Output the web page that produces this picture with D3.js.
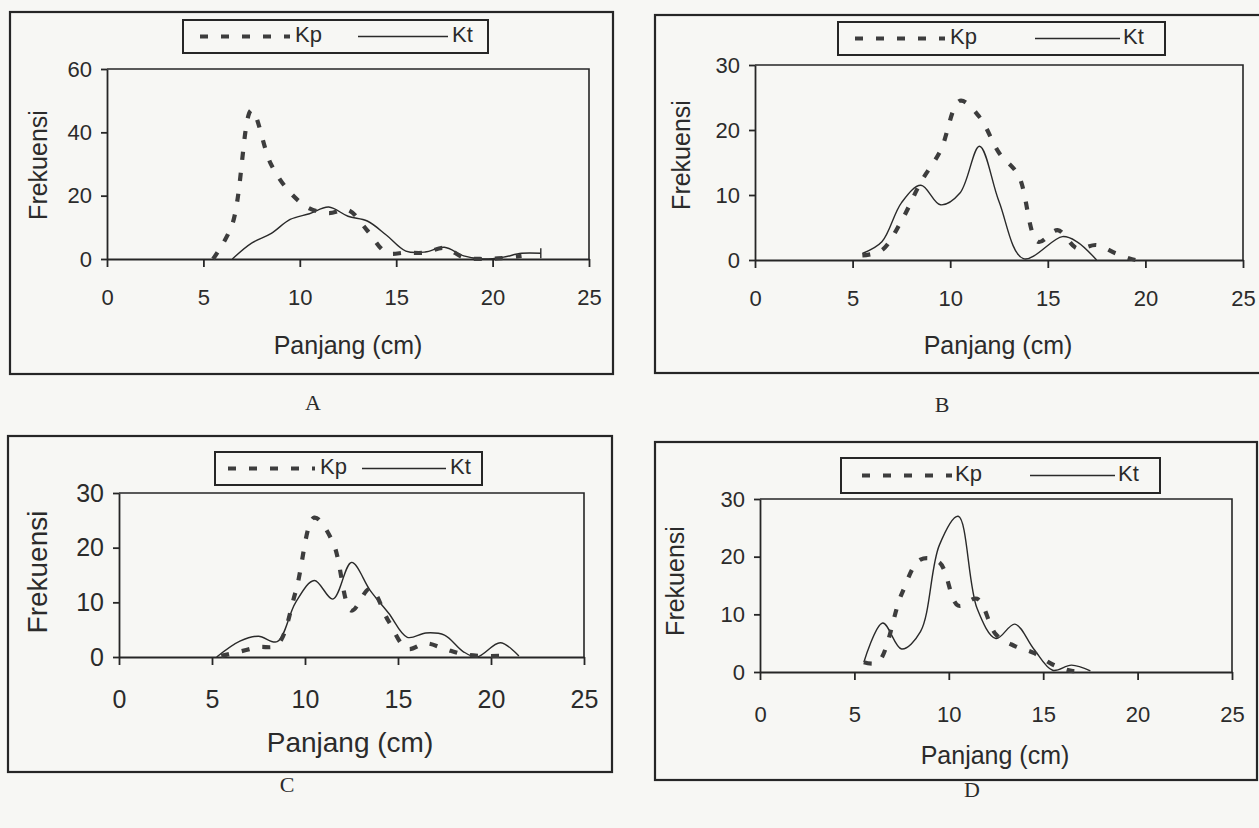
<!DOCTYPE html>
<html><head><meta charset="utf-8">
<script src="https://cdn.jsdelivr.net/npm/d3@7"></script>
<style>body{margin:0;background:#f7f7f4} svg{display:block}</style>
</head><body>
<svg id="c" width="1259" height="828"></svg>
<script>
// ---------- data ----------
const xTicks = [0, 5, 10, 15, 20, 25];
const aYTicks = [0, 20, 40, 60];
const yTicks30 = [0, 10, 20, 30];
const seriesNames = ["Kp", "Kt"];
const panelLetters = ["A", "B", "C", "D"];
const xTitle = "Panjang (cm)";
const yTitle = "Frekuensi";

const aKpX = [5.5, 6.5, 7.5, 8.5, 9.5, 10.5, 11.5, 12.5, 13.5, 14.5, 15.5, 16.5, 17.5, 18.5, 19.5, 20.5, 21.5];
const aKpY = [0, 11, 47, 30, 21, 16, 14.5, 15.5, 9, 2, 2, 2, 3.5, 0.5, 0, 0.3, 1];
const aKtX = [6.5, 7.5, 8.5, 9.5, 10.5, 11.5, 12.5, 13.5, 14.5, 15.5, 16.5, 17.5, 18.5, 19.5, 20.5, 21.5, 22.5];
const aKtY = [0, 5, 8, 12.5, 14.3, 16.4, 13.5, 12, 7.5, 2.5, 2.2, 3.7, 1, 0, 0.5, 1.8, 1.8];

const bKpX = [5.5, 6.5, 7.5, 8.5, 9.5, 10.5, 11.5, 12.5, 13.5, 14.5, 15.5, 16.5, 17.5, 18.5, 19.5, 20];
const bKpY = [0.7, 1.5, 6, 12, 16.8, 24.5, 22, 16.5, 13, 2.8, 4.6, 1.8, 2.3, 1, 0, 0];
const bKtX = [5.5, 6.5, 7.5, 8.5, 9.5, 10.5, 11.5, 12.5, 13.75, 15.75, 16.5, 17.5];
const bKtY = [1, 2.8, 8.8, 11.5, 8.5, 10.3, 17.5, 9, 0.2, 3.6, 2.8, 0];

const cKpX = [5.5, 6.5, 7.5, 8.5, 9.5, 10.5, 11.5, 12.5, 13.5, 14.5, 15.5, 16.5, 17.5, 18.5, 19.5, 20.5];
const cKpY = [0.2, 1, 1.8, 2.2, 12, 25.5, 21, 8.5, 12.5, 6.5, 1.5, 2.5, 1.5, 0.5, 0.2, 0.2];
const cKtX = [5.25, 6.5, 7.5, 8.5, 9.5, 10.5, 11.5, 12.5, 13.5, 14.5, 15.5, 16.5, 17.5, 18.5, 19.25, 20.5, 21.5];
const cKtY = [0, 2.9, 3.8, 2.8, 10, 14, 10.6, 17.3, 12.2, 8, 3.6, 4.4, 4, 1, 0, 2.6, 0.2];

const dKpX = [5.5, 6.25, 7.5, 8.5, 9.5, 10.5, 11.5, 12.5, 13.5, 14.5, 15.5, 16.5, 17.3];
const dKpY = [1.7, 1.7, 13.5, 19.5, 19, 11.5, 12.7, 6.5, 4.5, 3.3, 1.3, 0.2, 0.2];
const dKtX = [5.5, 6.5, 7.5, 8.5, 9.5, 10.5, 11.5, 12.5, 13.5, 14.5, 15.5, 16.5, 17.5];
const dKtY = [1.7, 8.5, 4, 7, 22, 27, 11, 5.8, 8.3, 4, 0.3, 1.2, 0.2];

// ---------- layout ----------
const panels = [
  { kpX: aKpX, kpY: aKpY, ktX: aKtX, ktY: aKtY, yTicks: aYTicks, yMax: 60, endCap: true,
    frame: [10, 12, 603, 362], x0: 107, x1: 589, y0: 259, y1: 69,
    tf: 22, hf: 25, xLab: 38, xT: [348, 347], yT: [40, 165], let: [313, 405],
    leg: { x: 183, y: 20, w: 305, h: 33, d0: 200, d1: 290, kp: 295, s0: 358, s1: 448, kt: 452 } },
  { kpX: bKpX, kpY: bKpY, ktX: bKtX, ktY: bKtY, yTicks: yTicks30, yMax: 30,
    frame: [655, 15, 640, 358], x0: 755, x1: 1243, y0: 260, y1: 65,
    tf: 22, hf: 25, xLab: 38, xT: [998, 347], yT: [683, 155], let: [942, 407],
    leg: { x: 838, y: 22, w: 327, h: 33, d0: 855, d1: 945, kp: 950, s0: 1035, s1: 1120, kt: 1123 } },
  { kpX: cKpX, kpY: cKpY, ktX: cKtX, ktY: cKtY, yTicks: yTicks30, yMax: 30,
    frame: [8, 436, 604, 336], x0: 119, x1: 584, y0: 657, y1: 493,
    tf: 25, hf: 28, xLab: 42, xT: [350, 745], yT: [40, 572], let: [287, 787],
    leg: { x: 215, y: 452, w: 267, h: 33, d0: 228, d1: 315, kp: 320, s0: 362, s1: 446, kt: 450 } },
  { kpX: dKpX, kpY: dKpY, ktX: dKtX, ktY: dKtY, yTicks: yTicks30, yMax: 30,
    frame: [655, 442, 602, 338], x0: 760, x1: 1232, y0: 672, y1: 499,
    tf: 22, hf: 25, xLab: 42, xT: [995, 757], yT: [677, 581], let: [972, 792],
    leg: { x: 841, y: 458, w: 319, h: 35, d0: 862, d1: 952, kp: 955, s0: 1030, s1: 1115, kt: 1118 } }
];

const INK = "#262626";
const SANS = "'Liberation Sans', Arial, sans-serif";
const SERIF = "'Liberation Serif', 'Times New Roman', serif";
const KP_DASH = "8,13";

const svg = d3.select("#c");

panels.forEach((p, i) => {
  const g = svg.append("g");
  const [fx, fy, fw, fh] = p.frame;
  g.append("rect").attr("x", fx).attr("y", fy).attr("width", fw).attr("height", fh)
    .attr("fill", "none").attr("stroke", INK).attr("stroke-width", 2.2);

  const x = d3.scaleLinear().domain([0, 25]).range([p.x0, p.x1]);
  const y = d3.scaleLinear().domain([0, p.yMax]).range([p.y0, p.y1]);

  // plot area top/right border
  g.append("path").attr("d", `M${x(0)},${y(p.yMax)}H${x(25)}V${y(0)}`)
    .attr("fill", "none").attr("stroke", INK).attr("stroke-width", 1.6);

  const xa = g.append("g").attr("transform", `translate(0,${y(0)})`)
    .call(d3.axisBottom(x).tickValues(xTicks).tickSize(8).tickSizeOuter(0));
  const ya = g.append("g").attr("transform", `translate(${x(0)},0)`)
    .call(d3.axisLeft(y).tickValues(p.yTicks).tickSize(6).tickSizeOuter(0).tickPadding(9));
  [xa, ya].forEach(a => {
    a.select(".domain").attr("stroke", INK).attr("stroke-width", 1.8);
    a.selectAll(".tick line").attr("stroke", INK).attr("stroke-width", 1.8);
    a.selectAll(".tick text").attr("fill", "#2b2b2b").style("font-family", SANS).style("font-size", p.tf + "px");
  });
  xa.selectAll(".tick text").attr("dy", "0.35em").attr("y", p.xLab);

  // series lines
  const line = d3.line().x(d => x(d[0])).y(d => y(d[1])).curve(d3.curveCatmullRom.alpha(0.5));
  const kt = p.ktX.map((v, k) => [v, p.ktY[k]]);
  const kp = p.kpX.map((v, k) => [v, p.kpY[k]]);
  g.append("path").attr("d", line(kt)).attr("fill", "none").attr("stroke", "#2a2a2a")
    .attr("stroke-width", 1.4);
  if (p.endCap) {
    const last = kt[kt.length - 1];
    g.append("line").attr("x1", x(last[0])).attr("x2", x(last[0]))
      .attr("y1", y(last[1]) - 5).attr("y2", y(last[1]) + 5)
      .attr("stroke", "#2a2a2a").attr("stroke-width", 1.4);
  }
  g.append("path").attr("d", line(kp)).attr("fill", "none").attr("stroke", "#3d3d3d")
    .attr("stroke-width", 4.2).attr("stroke-dasharray", KP_DASH);

  // axis titles
  g.append("text").attr("x", p.xT[0]).attr("y", p.xT[1]).attr("text-anchor", "middle")
    .attr("dominant-baseline", "middle").style("font-family", SANS).style("font-size", p.hf + "px")
    .attr("fill", "#2b2b2b").text(xTitle);
  g.append("text").attr("transform", `translate(${p.yT[0]},${p.yT[1]}) rotate(-90)`)
    .attr("text-anchor", "middle").attr("dominant-baseline", "middle")
    .style("font-family", SANS).style("font-size", p.hf + "px").attr("fill", "#2b2b2b").text(yTitle);

  // legend
  const L = p.leg, ly = L.y + L.h / 2;
  g.append("rect").attr("x", L.x).attr("y", L.y).attr("width", L.w).attr("height", L.h)
    .attr("fill", "none").attr("stroke", INK).attr("stroke-width", 2);
  g.append("line").attr("x1", L.d0).attr("x2", L.d1).attr("y1", ly).attr("y2", ly)
    .attr("stroke", "#3d3d3d").attr("stroke-width", 4.2).attr("stroke-dasharray", KP_DASH);
  g.append("line").attr("x1", L.s0).attr("x2", L.s1).attr("y1", ly).attr("y2", ly)
    .attr("stroke", "#2a2a2a").attr("stroke-width", 1.4);
  g.append("text").attr("x", L.kp).attr("y", ly).attr("dominant-baseline", "middle")
    .style("font-family", SANS).style("font-size", "22px").attr("fill", "#2b2b2b").text(seriesNames[0]);
  g.append("text").attr("x", L.kt).attr("y", ly).attr("dominant-baseline", "middle")
    .style("font-family", SANS).style("font-size", "22px").attr("fill", "#2b2b2b").text(seriesNames[1]);

  // panel letter
  g.append("text").attr("x", p.let[0]).attr("y", p.let[1]).attr("text-anchor", "middle")
    .attr("dominant-baseline", "middle").style("font-family", SERIF).style("font-size", "22px")
    .attr("fill", "#2b2b2b").text(panelLetters[i]);
});
</script>
</body></html>
